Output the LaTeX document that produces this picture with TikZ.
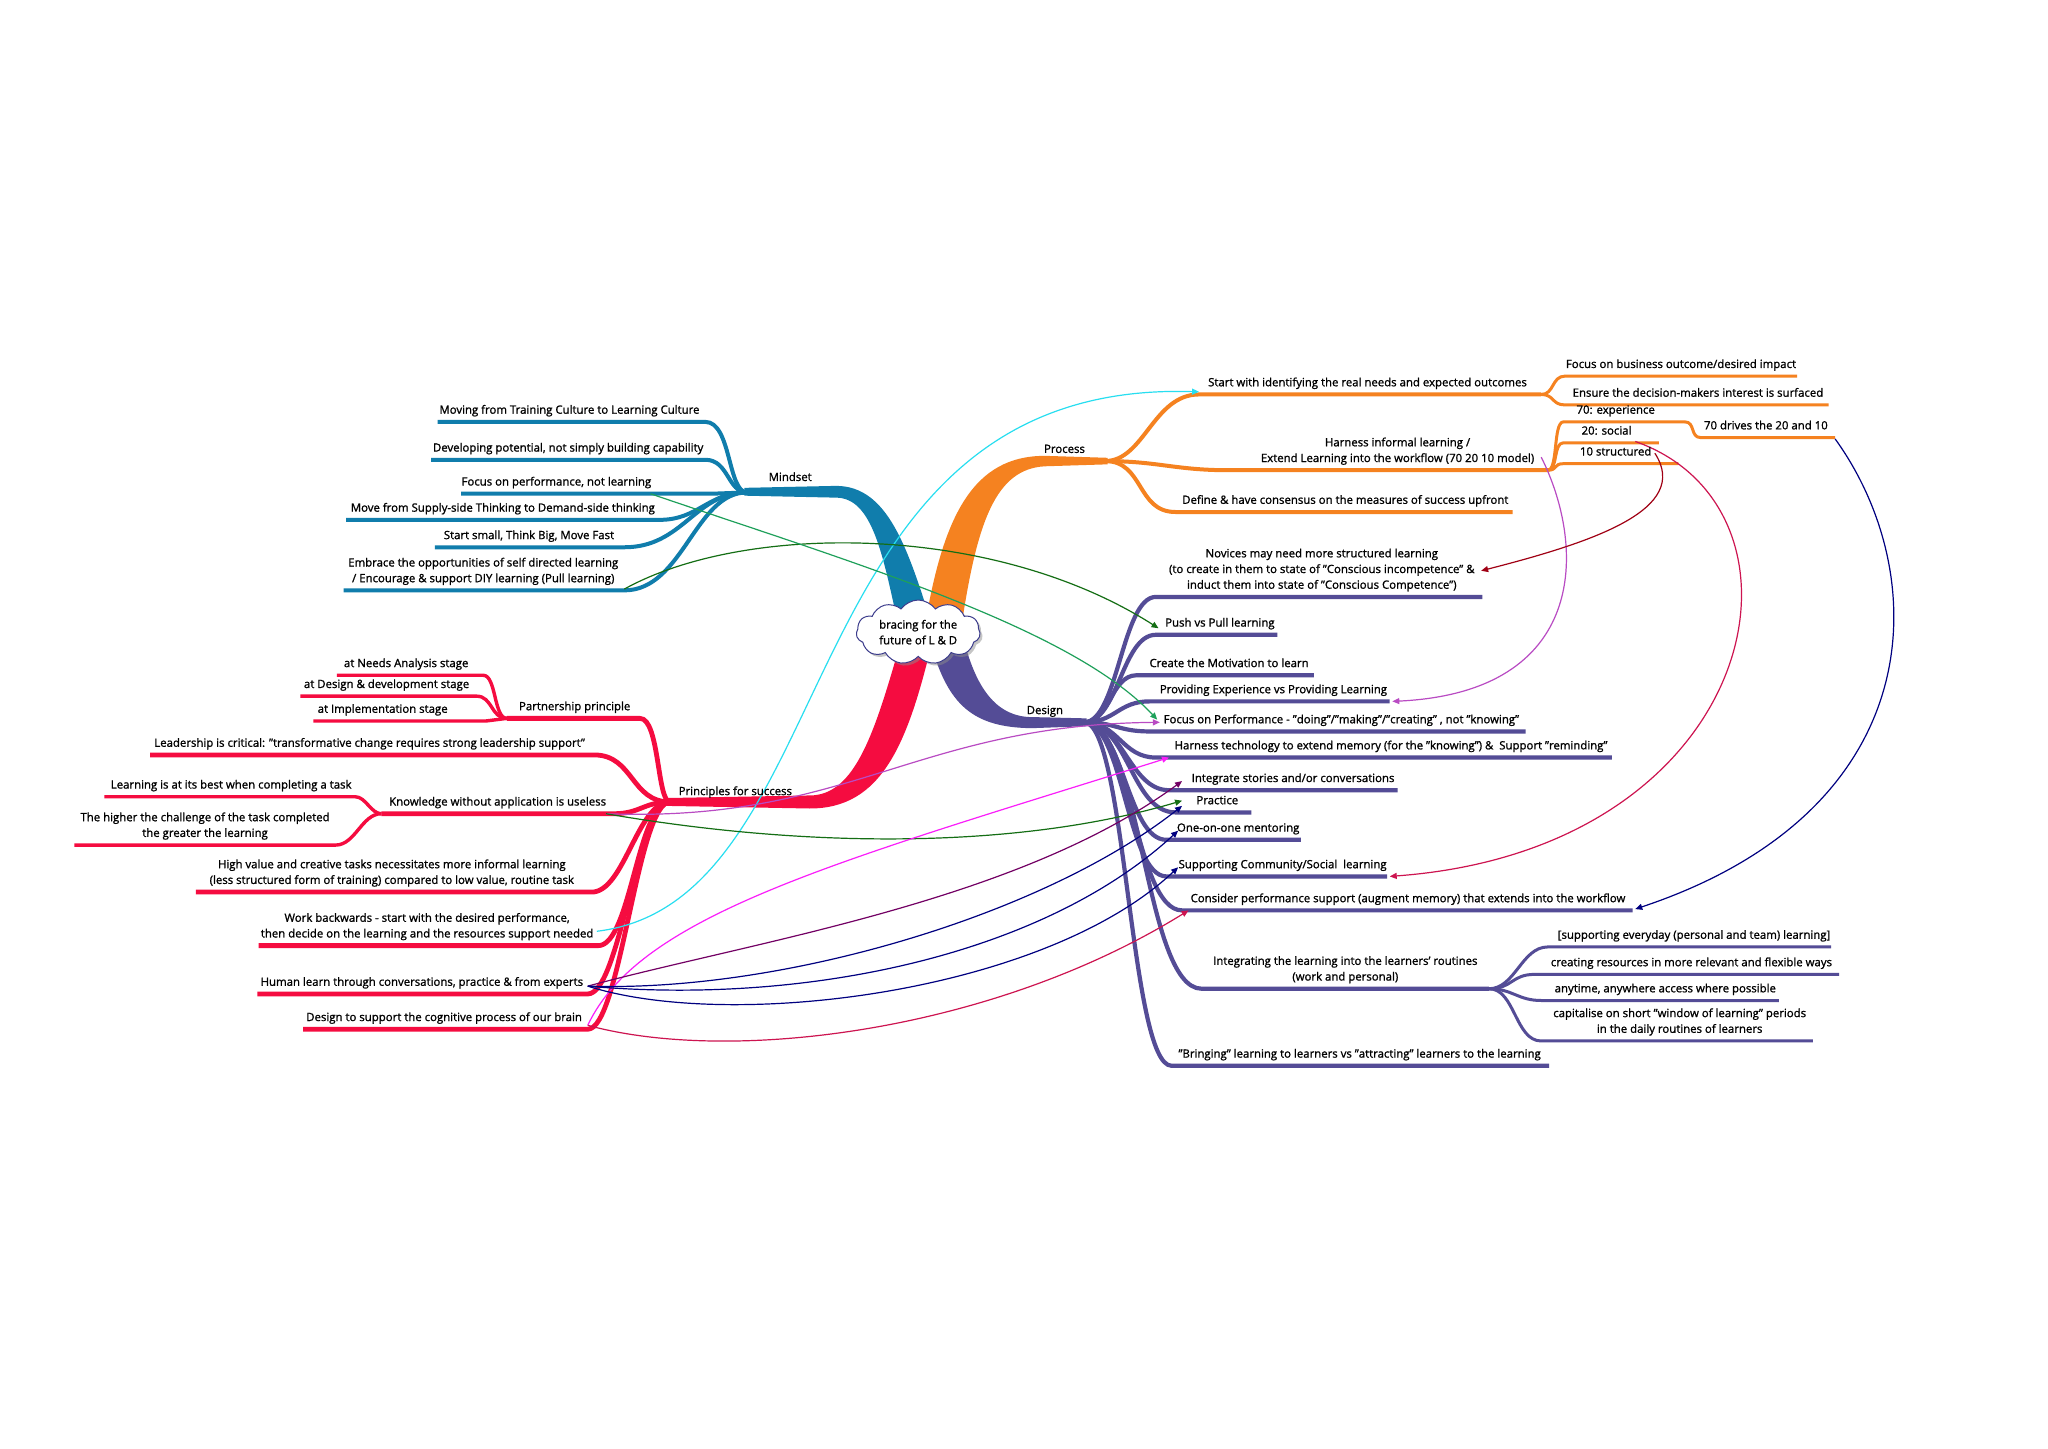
\documentclass[tikz,border=0pt]{standalone}
\usepackage{fontspec}
\setmainfont{Open Sans}[UprightFeatures={FakeBold=1.2}]
\usetikzlibrary{arrows.meta,shapes.symbols,shadows}
\newcommand\mmfont{\fontsize{11.4}{15.7}\selectfont}
\definecolor{cMind}{RGB}{16,125,172}
\definecolor{cProc}{RGB}{245,130,32}
\definecolor{cDes}{RGB}{84,76,150}
\definecolor{cPrin}{RGB}{245,12,64}
\definecolor{lnCyan}{RGB}{40,222,240}
\definecolor{lnDGreen}{RGB}{20,110,20}
\definecolor{lnGreen}{RGB}{30,160,90}
\definecolor{lnViolet}{RGB}{185,75,195}
\definecolor{lnDRed}{RGB}{160,0,20}
\definecolor{lnCrimson}{RGB}{205,20,80}
\definecolor{lnNavy}{RGB}{0,0,128}
\definecolor{lnMagenta}{RGB}{250,30,250}
\definecolor{lnPlum}{RGB}{115,0,100}
\definecolor{cloudline}{RGB}{60,60,140}
\begin{document}
\begin{tikzpicture}[x=1.30612pt,y=-1.30612pt,
 lbl/.style={font=\mmfont, inner sep=0pt, anchor=south, align=center, text=black, execute at end node=\strut},
 mbr/.style={draw=cMind, line width=4pt, line join=round},
 obr/.style={draw=cProc, line width=4pt, line join=round},
 osub/.style={draw=cProc, line width=3pt, line join=round},
 dbr/.style={draw=cDes, line width=4.2pt, line join=round},
 dsub/.style={draw=cDes, line width=3pt, line join=round},
 rbr/.style={draw=cPrin, line width=4.8pt, line join=round},
 rsub/.style={draw=cPrin, line width=3.4pt, line join=round},
 xl/.style={line width=1.2pt, -{Triangle[length=7pt,width=6pt]}},
 cloudbox/.style={cloud, cloud puffs=11, cloud puff arc=110, aspect=2.2, draw=cloudline, line width=1pt, fill=white, minimum width=124pt, minimum height=58pt, inner sep=0pt, drop shadow={shadow xshift=2.5pt,shadow yshift=-2.5pt,fill=black!45}, font=\mmfont, align=center}
]
\fill[white] (0,0) rectangle (1568,1109);
\useasboundingbox (0,0) rectangle (1568,1109);

% ---------- main bands ----------
\fill[cMind] (570,373.5) -- (640,372) .. controls (680,372) and (695,420) .. (714,480) -- (688,480) .. controls (676,425) and (668,381) .. (640,381) -- (570,379.5) -- cycle;
\fill[cProc] (708,480) .. controls (722,395) and (745,349) .. (800,349) -- (848,350.5) -- (848,355.5) -- (800,357) .. controls (762,359) and (748,400) .. (736,480) -- cycle;
\fill[cPrin] (510,611) -- (620,609) .. controls (655,609) and (670,560) .. (690,490) -- (714,490) .. controls (695,570) and (675,619) .. (620,619) -- (510,617) -- cycle;
\fill[cDes] (712,490) .. controls (725,540) and (745,557) .. (790,557.5) -- (832,556) -- (832,550) -- (790,549) .. controls (765,549) and (748,530) .. (738,490) -- cycle;

% ---------- hubs ----------
\coordinate (mh) at (572,377);
\coordinate (prh) at (846,353);
\coordinate (dh) at (830,553);
\coordinate (ph) at (513,614);

% ---------- Mindset branches ----------
\coordinate (m1a) at (335,323); \coordinate (m1b) at (540,323);
\coordinate (m2a) at (330,352); \coordinate (m2b) at (540,352);
\coordinate (m3a) at (353,378); \coordinate (m3b) at (545,378);
\coordinate (m4a) at (265,398); \coordinate (m4b) at (505,398);
\coordinate (m5a) at (333,419); \coordinate (m5b) at (478,419);
\coordinate (m6a) at (263,452); \coordinate (m6b) at (478,452);
\draw[mbr] (mh) .. controls +(-15,0) and +(20,0) .. (m1b) -- (m1a);
\draw[mbr] (mh) .. controls +(-15,0) and +(18,0) .. (m2b) -- (m2a);
\draw[mbr] (mh) -- (m3b) -- (m3a);
\draw[mbr] (mh) .. controls +(-30,0) and +(30,0) .. (m4b) -- (m4a);
\draw[mbr] (mh) .. controls +(-40,0) and +(45,0) .. (m5b) -- (m5a);
\draw[mbr] (mh) .. controls +(-40,0) and +(45,0) .. (m6b) -- (m6a);

% ---------- Process branches ----------
\coordinate (pr1a) at (918,302); \coordinate (pr1b) at (1180,302);
\coordinate (pr11a) at (1198,288); \coordinate (pr11b) at (1376,288);
\coordinate (pr12a) at (1198,310); \coordinate (pr12b) at (1400,310);
\coordinate (pr2a) at (940,360); \coordinate (pr2b) at (1185,360);
\coordinate (pr21a) at (1197,323); \coordinate (pr21b) at (1290,323);
\coordinate (pr211a) at (1302,335); \coordinate (pr211b) at (1405,335);
\coordinate (pr22a) at (1197,339); \coordinate (pr22b) at (1270,339);
\coordinate (pr23a) at (1197,355); \coordinate (pr23b) at (1285,355);
\coordinate (pr3a) at (900,392); \coordinate (pr3b) at (1158,392);
\draw[obr] (prh) .. controls +(30,0) and +(-35,0) .. (pr1a) -- (pr1b);
\draw[osub] (pr1b) .. controls +(10,0) and +(-10,0) .. (pr11a) -- (pr11b);
\draw[osub] (pr1b) .. controls +(10,0) and +(-10,0) .. (pr12a) -- (pr12b);
\draw[obr] (prh) .. controls +(40,0) and +(-40,0) .. (pr2a) -- (pr2b);
\draw[osub] (pr2b) .. controls +(8,0) and +(-8,0) .. (pr21a) -- (pr21b);
\draw[osub] (pr21b) .. controls +(8,0) and +(-8,0) .. (pr211a) -- (pr211b);
\draw[osub] (pr2b) .. controls +(8,0) and +(-8,0) .. (pr22a) -- (pr22b);
\draw[osub] (pr2b) .. controls +(8,0) and +(-8,0) .. (pr23a) -- (pr23b);
\draw[obr] (prh) .. controls +(30,0) and +(-30,0) .. (pr3a) -- (pr3b);

% ---------- Design branches ----------
\coordinate (d1a) at (885,457); \coordinate (d1b) at (1135,457);
\coordinate (d2a) at (885,486); \coordinate (d2b) at (978,486);
\coordinate (d3a) at (870,517); \coordinate (d3b) at (1006,517);
\coordinate (d4a) at (880,537); \coordinate (d4b) at (1064,537);
\coordinate (d5a) at (880,560); \coordinate (d5b) at (1168,560);
\coordinate (d6a) at (885,580); \coordinate (d6b) at (1234,580);
\coordinate (d7a) at (895,605); \coordinate (d7b) at (1070,605);
\coordinate (d8a) at (900,622); \coordinate (d8b) at (958,622);
\coordinate (d9a) at (893,643); \coordinate (d9b) at (996,643);
\coordinate (d10a) at (893,671); \coordinate (d10b) at (1062,671);
\coordinate (d11a) at (905,697); \coordinate (d11b) at (1250,697);
\coordinate (d12a) at (920,757); \coordinate (d12b) at (1140,757);
\coordinate (d121a) at (1185,725); \coordinate (d121b) at (1402,725);
\coordinate (d122a) at (1175,746); \coordinate (d122b) at (1408,746);
\coordinate (d123a) at (1180,766); \coordinate (d123b) at (1362,766);
\coordinate (d124a) at (1180,797); \coordinate (d124b) at (1388,797);
\coordinate (d13a) at (897,816); \coordinate (d13b) at (1186,816);
\draw[dbr] (dh) .. controls +(26,0) and +(-26,0) .. (d1a) -- (d1b);
\draw[dbr] (dh) .. controls +(26,0) and +(-26,0) .. (d2a) -- (d2b);
\draw[dbr] (dh) .. controls +(19,0) and +(-19,0) .. (d3a) -- (d3b);
\draw[dbr] (dh) .. controls +(24,0) and +(-24,0) .. (d4a) -- (d4b);
\draw[dbr] (dh) .. controls +(24,0) and +(-24,0) .. (d5a) -- (d5b);
\draw[dbr] (dh) .. controls +(26,0) and +(-26,0) .. (d6a) -- (d6b);
\draw[dbr] (dh) .. controls +(30,0) and +(-30,0) .. (d7a) -- (d7b);
\draw[dbr] (dh) .. controls +(34,0) and +(-34,0) .. (d8a) -- (d8b);
\draw[dbr] (dh) .. controls +(30,0) and +(-30,0) .. (d9a) -- (d9b);
\draw[dbr] (dh) .. controls +(30,0) and +(-30,0) .. (d10a) -- (d10b);
\draw[dbr] (dh) .. controls +(36,0) and +(-36,0) .. (d11a) -- (d11b);
\draw[dbr] (dh) .. controls +(44,0) and +(-44,0) .. (d12a) -- (d12b);
\draw[dsub] (d12b) .. controls +(20,0) and +(-20,0) .. (d121a) -- (d121b);
\draw[dsub] (d12b) .. controls +(18,0) and +(-18,0) .. (d122a) -- (d122b);
\draw[dsub] (d12b) .. controls +(18,0) and +(-18,0) .. (d123a) -- (d123b);
\draw[dsub] (d12b) .. controls +(20,0) and +(-20,0) .. (d124a) -- (d124b);
\draw[dbr] (dh) .. controls +(32,0) and +(-32,0) .. (d13a) -- (d13b);

% ---------- Principles branches ----------
\coordinate (p1a) at (388,550); \coordinate (p1b) at (490,550);
\coordinate (p11a) at (258,517); \coordinate (p11b) at (370,517);
\coordinate (p12a) at (230,533); \coordinate (p12b) at (365,533);
\coordinate (p13a) at (240,552); \coordinate (p13b) at (372,552);
\coordinate (p2a) at (115,578); \coordinate (p2b) at (455,578);
\coordinate (p3a) at (292,623); \coordinate (p3b) at (470,623);
\coordinate (p31a) at (80,610); \coordinate (p31b) at (272,610);
\coordinate (p32a) at (57,647); \coordinate (p32b) at (257,647);
\coordinate (p4a) at (150,683); \coordinate (p4b) at (453,683);
\coordinate (p5a) at (198,724); \coordinate (p5b) at (458,724);
\coordinate (p6a) at (197,761); \coordinate (p6b) at (450,761);
\coordinate (p7a) at (232,788); \coordinate (p7b) at (450,788);
\draw[rbr] (ph) .. controls +(-10,0) and +(15,0) .. (p1b) -- (p1a);
\draw[rsub] (p1a) .. controls +(-10,0) and +(10,0) .. (p11b) -- (p11a);
\draw[rsub] (p1a) .. controls +(-12,0) and +(12,0) .. (p12b) -- (p12a);
\draw[rsub] (p1a) -- (p13b) -- (p13a);
\draw[rbr] (ph) .. controls +(-30,0) and +(30,0) .. (p2b) -- (p2a);
\draw[rbr] (ph) .. controls +(-20,0) and +(20,0) .. (p3b) -- (p3a);
\draw[rsub] (p3a) .. controls +(-8,0) and +(8,0) .. (p31b) -- (p31a);
\draw[rsub] (p3a) .. controls +(-15,0) and +(15,0) .. (p32b) -- (p32a);
\draw[rbr] (ph) .. controls +(-25,0) and +(25,0) .. (p4b) -- (p4a);
\draw[rbr] (ph) .. controls +(-25,0) and +(25,0) .. (p5b) -- (p5a);
\draw[rbr] (ph) .. controls +(-25,0) and +(25,0) .. (p6b) -- (p6a);
\draw[rbr] (ph) .. controls +(-25,0) and +(25,0) .. (p7b) -- (p7a);

% ---------- cross links ----------
\coordinate (xWork) at (457,713);
\coordinate (xEmb) at (478,451);
\coordinate (xFoc) at (498,378);
\coordinate (xHarn) at (1180,350);
\coordinate (x10) at (1267,347);
\coordinate (x20) at (1252,338);
\coordinate (x70) at (1405,336);
\coordinate (xKnow) at (464,623);
\coordinate (xHum) at (450,755);
\coordinate (xDesS) at (450,785);
\coordinate (tStart) at (918,300);
\coordinate (tPush) at (887,481);
\coordinate (tFocP) at (886,551);
\coordinate (tFocP2) at (888,553);
\coordinate (tProv) at (1066,537);
\coordinate (tNov) at (1134,437);
\coordinate (tSupp) at (1064,671);
\coordinate (tCons) at (1252,696);
\coordinate (tCons2) at (910,697);
\coordinate (tPrac) at (905,613);
\coordinate (tPrac2) at (905,617);
\coordinate (tHarT) at (895,580);
\coordinate (tInt) at (905,598);
\coordinate (tOne) at (902,636);
\coordinate (tSupp2) at (902,664);
\draw[xl,lnCyan] (xWork) .. controls (650,690) and (600,290) .. (tStart);
\draw[xl,lnDGreen] (xEmb) .. controls (570,400) and (760,400) .. (tPush);
\draw[xl,lnGreen] (xFoc) .. controls (650,430) and (820,480) .. (tFocP);
\draw[xl,lnViolet] (xHarn) .. controls (1215,420) and (1215,530) .. (tProv);
\draw[xl,lnDRed] (x10) .. controls (1295,390) and (1220,415) .. (tNov);
\draw[xl,lnCrimson] (x20) .. controls (1400,390) and (1350,650) .. (tSupp);
\draw[xl,lnNavy] (x70) .. controls (1480,440) and (1480,620) .. (tCons);
\draw[xl,lnViolet] (xKnow) .. controls (650,630) and (700,555) .. (tFocP2);
\draw[xl,lnDGreen] (xKnow) .. controls (620,650) and (780,650) .. (tPrac);
\draw[xl,lnMagenta] (xDesS) .. controls (490,700) and (640,660) .. (tHarT);
\draw[xl,lnPlum] (xHum) .. controls (580,720) and (780,690) .. (tInt);
\draw[xl,lnNavy] (xHum) .. controls (600,760) and (800,700) .. (tPrac2);
\draw[xl,lnNavy] (xHum) .. controls (620,770) and (800,730) .. (tOne);
\draw[xl,lnNavy] (xHum) .. controls (560,790) and (800,760) .. (tSupp2);
\draw[xl,lnCrimson] (xDesS) .. controls (560,815) and (760,790) .. (tCons2);

% ---------- cloud ----------
\node[cloudbox] (c) at (703,484) {bracing for the\\future of L \& D};

% ---------- labels ----------
\node[lbl] (mind) at (605,372) {Mindset};
\node[lbl] (m1) at (436,320.5) {Moving from Training Culture to Learning Culture};
\node[lbl] (m2) at (435,349.5) {Developing potential, not simply building capability};
\node[lbl] (m3) at (426,375.5) {Focus on performance, not learning};
\node[lbl] (m4) at (385,395.5) {Move from Supply-side Thinking to Demand-side thinking};
\node[lbl] (m5) at (405,416.5) {Start small, Think Big, Move Fast};
\node[lbl] (m6) at (370,449.5) {Embrace the opportunities of self directed learning\\/ Encourage \& support DIY learning (Pull learning)};

\node[lbl] (proc) at (815,350.5) {Process};
\node[lbl] (pr1) at (1047,299.5) {Start with identifying the real needs and expected outcomes};
\node[lbl] (pr11) at (1287,285.5) {Focus on business outcome/desired impact};
\node[lbl] (pr12) at (1300,307.5) {Ensure the decision-makers interest is surfaced};
\node[lbl] (pr2) at (1070,357.5) {Harness informal learning /\\Extend Learning into the workflow (70 20 10 model)};
\node[lbl] (pr21) at (1237,320.5) {70: experience};
\node[lbl] (pr211) at (1352,332.5) {70 drives the 20 and 10};
\node[lbl] (pr22) at (1230,336.5) {20: social};
\node[lbl] (pr23) at (1237,352.5) {10 structured};
\node[lbl] (pr3) at (1030,389.5) {Define \& have consensus on the measures of success upfront};

\node[lbl] (des) at (800,550.5) {Design};
\node[lbl] (d1) at (1012,454.5) {Novices may need more structured learning\\(to create in them to state of "Conscious incompetence" \&\\induct them into state of "Conscious Competence")};
\node[lbl] (d2) at (934,483.5) {Push vs Pull learning};
\node[lbl] (d3) at (941,514.5) {Create the Motivation to learn};
\node[lbl] (d4) at (975,534.5) {Providing Experience vs Providing Learning};
\node[lbl] (d5) at (1027,557.5) {Focus on Performance - "doing"/"making"/"creating" , not "knowing"};
\node[lbl] (d6) at (1065,577.5) {Harness technology to extend memory (for the "knowing") \&\ \ Support "reminding"};
\node[lbl] (d7) at (990,602.5) {Integrate stories and/or conversations};
\node[lbl] (d8) at (932,619.5) {Practice};
\node[lbl] (d9) at (948,640.5) {One-on-one mentoring};
\node[lbl] (d10) at (982,668.5) {Supporting Community/Social\ \ learning};
\node[lbl] (d11) at (1078,694.5) {Consider performance support (augment memory) that extends into the workflow};
\node[lbl] (d12) at (1030,754.5) {Integrating the learning into the learners' routines\\(work and personal)};
\node[lbl] (d121) at (1297,722.5) {[supporting everyday (personal and team) learning]};
\node[lbl] (d122) at (1295,743.5) {creating resources in more relevant and flexible ways};
\node[lbl] (d123) at (1275,763.5) {anytime, anywhere access where possible};
\node[lbl] (d124) at (1286,794.5) {capitalise on short "window of learning" periods\\in the daily routines of learners};
\node[lbl] (d13) at (1041,813.5) {"Bringing" learning to learners vs "attracting" learners to the learning};

\node[lbl] (prin) at (563,612.5) {Principles for success};
\node[lbl] (p1) at (440,547.5) {Partnership principle};
\node[lbl] (p11) at (311,514.5) {at Needs Analysis stage};
\node[lbl] (p12) at (296,530.5) {at Design \& development stage};
\node[lbl] (p13) at (293,549.5) {at Implementation stage};
\node[lbl] (p2) at (283,575.5) {Leadership is critical: "transformative change requires strong leadership support"};
\node[lbl] (p3) at (381,620.5) {Knowledge without application is useless};
\node[lbl] (p31) at (177,607.5) {Learning is at its best when completing a task};
\node[lbl] (p32) at (157,644.5) {The higher the challenge of the task completed\\the greater the learning};
\node[lbl] (p4) at (300,680.5) {High value and creative tasks necessitates more informal learning\\(less structured form of training) compared to low value, routine task};
\node[lbl] (p5) at (327,721.5) {Work backwards - start with the desired performance,\\then decide on the learning and the resources support needed};
\node[lbl] (p6) at (323,758.5) {Human learn through conversations, practice \& from experts};
\node[lbl] (p7) at (340,785.5) {Design to support the cognitive process of our brain};
\end{tikzpicture}
\end{document}
